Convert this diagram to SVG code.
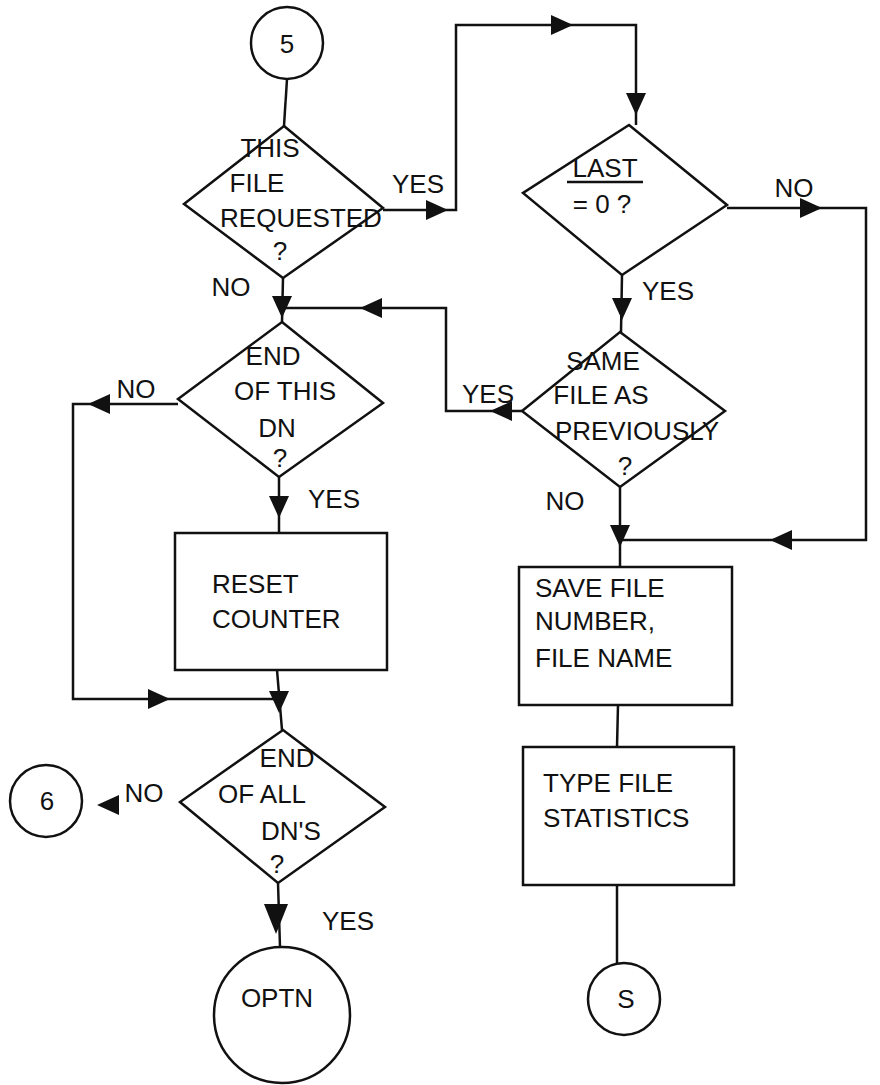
<svg xmlns="http://www.w3.org/2000/svg" xmlns:xlink="http://www.w3.org/1999/xlink" width="880" height="1085" viewBox="0 0 880 1085">
<style>
.shape{fill:none;stroke:#111;stroke-width:2.5}
.line{fill:none;stroke:#111;stroke-width:2.5}
.t{font-family:"Liberation Sans",Arial,sans-serif;font-size:26px;fill:#111}
.m{text-anchor:middle}
.ah{fill:#111}
</style>
<defs>
<polygon id="ah" points="0,0 -22,-10 -22,10"/>
<polygon id="ahL" points="0,0 -30,-12 -30,12"/>
</defs>
<rect width="880" height="1085" fill="#fff"/>
<g id="connectors">
<path class="line" d="M287,79 L284,126"/>
<path class="line" d="M383,210 L456,210 L456,25 L636,25 L636,125"/>
<use href="#ah" class="ah" transform="translate(448,210)"/>
<use href="#ah" class="ah" transform="translate(573,25)"/>
<use href="#ah" class="ah" transform="translate(636,115) rotate(90)"/>
<path class="line" d="M727,208 L866,208 L866,540 L620,540"/>
<use href="#ah" class="ah" transform="translate(822,208)"/>
<use href="#ah" class="ah" transform="translate(770,540) rotate(180)"/>
<path class="line" d="M622,275 L621,332"/>
<use href="#ah" class="ah" transform="translate(622,320) rotate(90)"/>
<path class="line" d="M522,411 L446,411 L446,308 L282,308"/>
<use href="#ah" class="ah" transform="translate(490,411) rotate(180)"/>
<use href="#ah" class="ah" transform="translate(360,308) rotate(180)"/>
<path class="line" d="M620,487 L620,567"/>
<use href="#ah" class="ah" transform="translate(620,547) rotate(90)"/>
<path class="line" d="M283,278 L282,322"/>
<use href="#ah" class="ah" transform="translate(282,318) rotate(90)"/>
<path class="line" d="M178,404 L73,404 L73,699 L278,699"/>
<use href="#ah" class="ah" transform="translate(88,404) rotate(180)"/>
<use href="#ah" class="ah" transform="translate(170,699)"/>
<path class="line" d="M279,477 L279,533"/>
<use href="#ah" class="ah" transform="translate(279,518) rotate(90)"/>
<path class="line" d="M277,670 L282,730"/>
<use href="#ah" class="ah" transform="translate(279,713) rotate(90)"/>
<use href="#ah" class="ah" transform="translate(97,805) rotate(180)"/>
<path class="line" d="M278,883 L280,947"/>
<use href="#ahL" class="ah" transform="translate(276,934) rotate(90)"/>
<path class="line" d="M618,705 L617,747"/>
<path class="line" d="M617,885 L617,963"/>
</g>
<g id="n-circle5">
<circle class="shape" cx="287" cy="43" r="36"/>
<text class="t m" x="287" y="53">5</text>
</g>
<g id="n-this-file">
<polygon class="shape" points="284,126 383,208 283,278 184,204"/>
<text class="t m" x="270" y="157">THIS</text>
<text class="t m" x="257" y="192">FILE</text>
<text class="t m" x="301" y="227">REQUESTED</text>
<text class="t m" x="280" y="260">?</text>
<text class="t m" x="418" y="193">YES</text>
<text class="t m" x="231" y="296">NO</text>
</g>
<g id="n-last">
<polygon class="shape" points="629,125 727,205 622,275 523,193"/>
<text class="t m" x="605" y="177">LAST</text>
<line class="line" x1="567" y1="182" x2="643" y2="182"/>
<text class="t m" x="602" y="213">= 0 ?</text>
<text class="t m" x="794" y="197">NO</text>
<text class="t m" x="668" y="300">YES</text>
</g>
<g id="n-same-file">
<polygon class="shape" points="620,332 725,411 620,487 522,411"/>
<text class="t m" x="603" y="370">SAME</text>
<text class="t m" x="601" y="404">FILE AS</text>
<text class="t m" x="637" y="440">PREVIOUSLY</text>
<text class="t m" x="625" y="475">?</text>
<text class="t m" x="488" y="403">YES</text>
<text class="t m" x="565" y="510">NO</text>
</g>
<g id="n-end-this-dn">
<polygon class="shape" points="282,322 383,403 279,477 178,399"/>
<text class="t m" x="273" y="365">END</text>
<text class="t m" x="285" y="400">OF THIS</text>
<text class="t m" x="277" y="437">DN</text>
<text class="t m" x="280" y="467">?</text>
<text class="t m" x="136" y="398">NO</text>
<text class="t m" x="334" y="508">YES</text>
</g>
<g id="n-reset">
<rect class="shape" x="175" y="533" width="212" height="137"/>
<text class="t" x="212" y="593">RESET</text>
<text class="t" x="212" y="628">COUNTER</text>
</g>
<g id="n-end-all">
<polygon class="shape" points="283,730 385,807 278,883 180,802"/>
<text class="t m" x="287" y="767">END</text>
<text class="t m" x="262" y="803">OF ALL</text>
<text class="t m" x="291" y="840">DN'S</text>
<text class="t m" x="277" y="873">?</text>
<text class="t m" x="144" y="802">NO</text>
<text class="t m" x="348" y="930">YES</text>
</g>
<g id="n-circle6">
<circle class="shape" cx="46" cy="801" r="36"/>
<text class="t m" x="47" y="810">6</text>
</g>
<g id="n-optn">
<circle class="shape" cx="282" cy="1015" r="68"/>
<text class="t m" x="277" y="1007">OPTN</text>
</g>
<g id="n-save">
<rect class="shape" x="519" y="567" width="213" height="138"/>
<text class="t" x="535" y="597">SAVE FILE</text>
<text class="t" x="535" y="630">NUMBER,</text>
<text class="t" x="535" y="667">FILE NAME</text>
</g>
<g id="n-type">
<rect class="shape" x="523" y="747" width="211" height="138"/>
<text class="t" x="543" y="792">TYPE FILE</text>
<text class="t" x="543" y="827">STATISTICS</text>
</g>
<g id="n-s">
<circle class="shape" cx="624" cy="999" r="36"/>
<text class="t m" x="626" y="1008">S</text>
</g>
</svg>
